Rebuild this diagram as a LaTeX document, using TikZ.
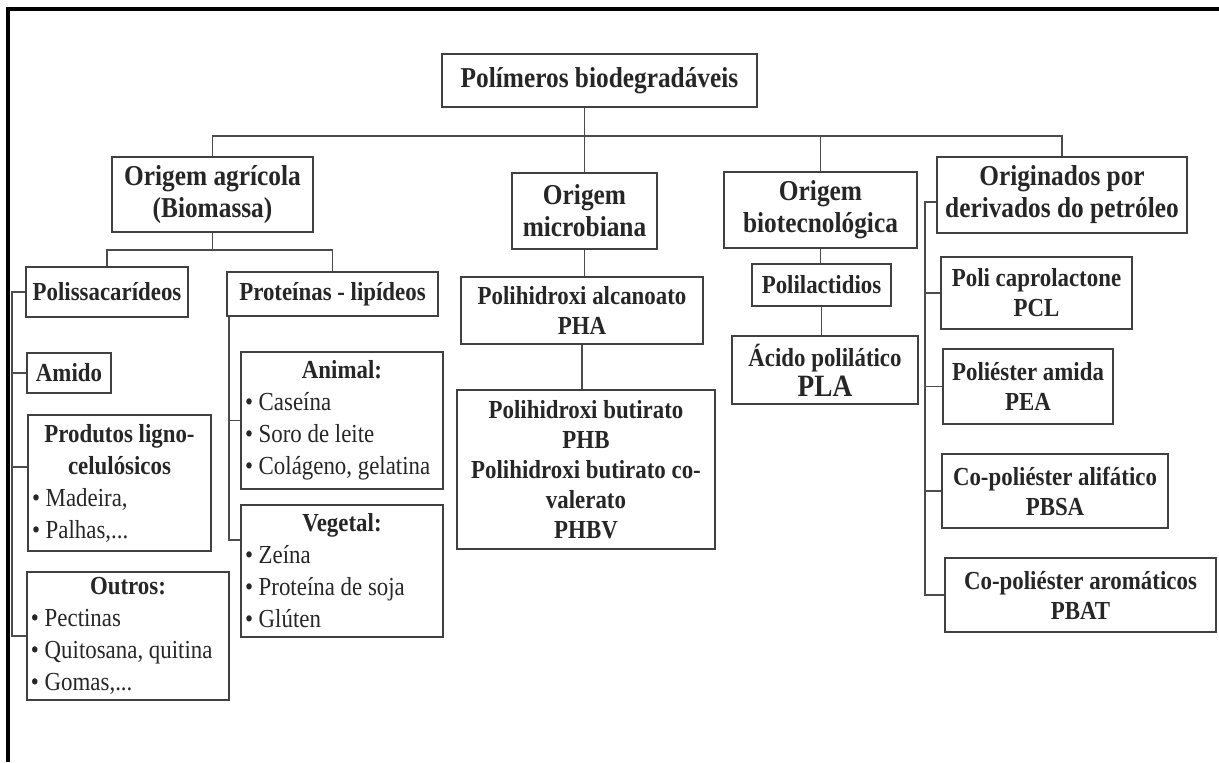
\documentclass[tikz,border=0pt]{standalone}
\usepackage{fontspec}
\setmainfont{Liberation Serif}[FakeStretch=0.88]

\newcommand{\listhead}[1]{\hspace*{\fill}\textbf{#1}\hspace*{\fill}\null}

\begin{document}
\begin{tikzpicture}[
  x=0.5pt, y=-0.5pt,
  box/.style={draw=black!75, line width=0.9pt, align=center, inner sep=1pt, text=black!85, font=\bfseries\fontsize{13}{15}\selectfont},
  head/.style={box, font=\bfseries\fontsize{14.4}{16}\selectfont},
  listbox/.style={box, align=flush left, inner xsep=2pt, font=\fontsize{13}{16}\selectfont},
  link/.style={draw=black!70, line width=0.9pt}
]
  \useasboundingbox (0,0) rectangle (1219,762);
  \draw[line width=1.6pt] (1219,9) -- (8,9) -- (8,762);

  \node[head, minimum width=157.5pt, minimum height=26.5pt] (top) at (599.5,80.5) {Polímeros biodegradáveis};
  \node[head, minimum width=100.5pt, minimum height=37.5pt] (agri) at (212.5,194.5) {Origem agrícola\\(Biomassa)};
  \node[head, minimum width=72.5pt, minimum height=38pt] (micro) at (584.5,211) {Origem\\microbiana};
  \node[head, minimum width=96.5pt, minimum height=38pt] (biotec) at (820.5,210) {Origem\\biotecnológica};
  \node[head, minimum width=125pt, minimum height=38pt] (petro) at (1062,195) {Originados por\\derivados do petróleo};

  \node[box, minimum width=81pt, minimum height=25pt] (polis) at (107,292) {Polissacarídeos};
  \node[box, minimum width=105.5pt, minimum height=22pt] (prot) at (332.5,294) {Proteínas - lipídeos};
  \node[box, minimum width=42pt, minimum height=20pt] (amido) at (69,373) {Amido};
  \node[listbox, text width=87.5pt, minimum height=68pt] (ligno) at (119.5,483) {\listhead{Produtos ligno-}\\\listhead{celulósicos}\\\textbullet\ Madeira,\\\textbullet\ Palhas,...};
  \node[listbox, text width=97pt, minimum height=64pt] (outros) at (128,636) {\listhead{Outros:}\\\textbullet\ Pectinas\\\textbullet\ Quitosana, quitina\\\textbullet\ Gomas,...};
  \node[listbox, text width=97pt, minimum height=68.5pt] (animal) at (342,420.5) {\listhead{Animal:}\\\textbullet\ Caseína\\\textbullet\ Soro de leite\\\textbullet\ Colágeno, gelatina};
  \node[listbox, text width=97pt, minimum height=66pt] (vegetal) at (342,571) {\listhead{Vegetal:}\\\textbullet\ Zeína\\\textbullet\ Proteína de soja\\\textbullet\ Glúten};

  \node[box, minimum width=121pt, minimum height=33.5pt] (pha) at (582,310.5) {Polihidroxi alcanoato\\PHA};
  \node[box, minimum width=129pt, minimum height=79.5pt] (phb) at (586,469.5) {Polihidroxi butirato\\PHB\\Polihidroxi butirato co-\\valerato\\PHBV};

  \node[box, minimum width=69.5pt, minimum height=21pt] (polilac) at (821.5,285) {Polilactidios};
  \node[box, minimum width=93pt, minimum height=34pt] (pla) at (825,370) {Ácido polilático\\{\fontsize{15.5}{17}\selectfont PLA}};

  \node[box, minimum width=95.5pt, minimum height=36pt] (pcl) at (1036.5,293) {Poli caprolactone\\PCL};
  \node[box, minimum width=85pt, minimum height=37.5pt] (pea) at (1028,386.5) {Poliéster amida\\PEA};
  \node[box, minimum width=113pt, minimum height=37pt] (pbsa) at (1055,491) {Co-poliéster alifático\\PBSA};
  \node[box, minimum width=135.5pt, minimum height=37pt] (pbat) at (1080.5,595) {Co-poliéster aromáticos\\PBAT};

  \coordinate (bus) at (0,136);
  \coordinate (agbus) at (0,250);
  \coordinate (lspine) at (12,0);
  \coordinate (pspine) at (229,0);
  \coordinate (dspine) at (925,0);

  \draw[link] (top.south -| micro.north) -- (micro.north);
  \draw[link] (agri.north) |- (bus -| petro.north) -- (petro.north);
  \draw[link] (bus -| biotec.north) -- (biotec.north);

  \draw[link] (agri.south) -- (agbus -| agri.south);
  \draw[link] (polis.north) |- (agbus -| prot.north) -- (prot.north);
  \draw[link] (polis.west) -- (polis.west -| lspine) |- (outros.west);
  \draw[link] (amido.west -| lspine) -- (amido.west);
  \draw[link] (ligno.170 -| lspine) -- (ligno.170);
  \draw[link] (prot.south -| pspine) |- (vegetal.163);
  \draw[link] (animal.west -| pspine) -- (animal.west);

  \draw[link] (micro.south) -- (micro.south |- pha.north);
  \draw[link] (pha.south) -- (pha.south |- phb.north);

  \draw[link] (biotec.south) -- (biotec.south |- polilac.north);
  \draw[link] (polilac.south) -- (polilac.south |- pla.north);

  \draw[link] (petro.183) -- (petro.183 -| dspine) |- (pbat.west);
  \draw[link] (pcl.west -| dspine) -- (pcl.west);
  \draw[link] (pea.west -| dspine) -- (pea.west);
  \draw[link] (pbsa.west -| dspine) -- (pbsa.west);
\end{tikzpicture}
\end{document}
